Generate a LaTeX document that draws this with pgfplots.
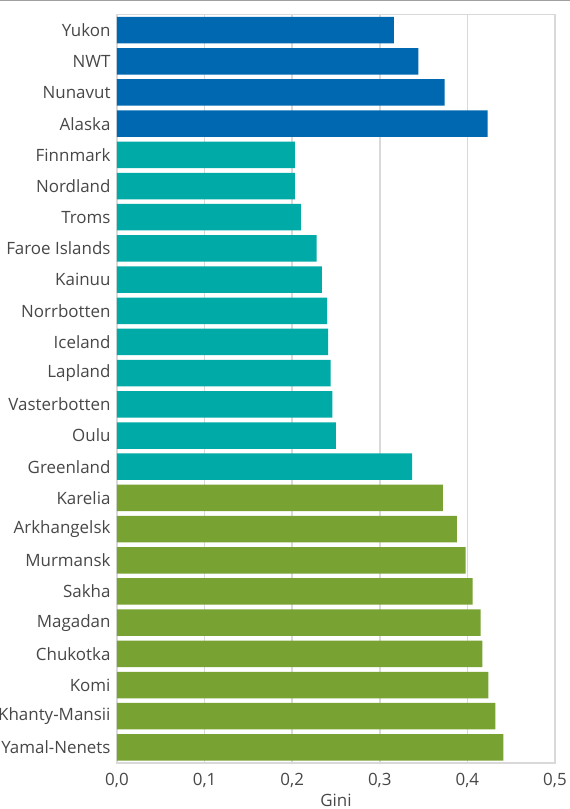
\documentclass[border=0pt]{standalone}
\usepackage{fontspec}
\setmainfont{Open Sans}
\usepackage{pgfplots}
\pgfplotsset{compat=1.18}
\definecolor{cblue}{HTML}{0068B1}
\definecolor{cteal}{HTML}{00AAA6}
\definecolor{cgreen}{HTML}{78A232}
\definecolor{gridc}{HTML}{D9D9D9}
\definecolor{txt}{HTML}{474747}
\begin{document}
\begin{tikzpicture}
\path[use as bounding box] (-117bp,-46bp) rectangle (453bp,763bp);
\begin{axis}[
  at={(0,0)}, anchor=south west,
  scale only axis, width=438bp, height=748.5bp,
  xbar, xmin=0, xmax=0.5, ymin=-0.5, ymax=23.5, y dir=reverse,
  bar width=26.5bp,
  every axis plot/.append style={bar shift=0pt, draw=none},
  ytick={0,...,23},
  yticklabels={Yukon,NWT,Nunavut,Alaska,Finnmark,Nordland,Troms,Faroe Islands,Kainuu,Norrbotten,Iceland,Lapland,Vasterbotten,Oulu,Greenland,Karelia,Arkhangelsk,Murmansk,Sakha,Magadan,Chukotka,Komi\hspace{4bp},Khanty-Mansii,Yamal-Nenets},
  xtick={0,0.1,0.2,0.3,0.4,0.5},
  major tick length=0pt,
  xmajorgrids, grid style={gridc, line width=1.5bp},
  axis line style={gridc, line width=1.5bp},
  tick label style={font=\fontsize{17}{20}\selectfont, text=txt},
  yticklabel style={xshift=-3bp},
  xticklabel style={yshift=-7bp},
  label style={font=\fontsize{17}{20}\selectfont, text=txt},
  xlabel style={yshift=1bp},
  /pgf/number format/.cd, fixed, fixed zerofill, precision=1, use comma, assume math mode=true,
  /pgfplots/.cd,
  xlabel={Gini},
]
\addplot[fill=cblue] coordinates {(0.316,0) (0.344,1) (0.374,2) (0.423,3)};
\addplot[fill=cteal] coordinates {(0.203,4) (0.203,5) (0.210,6) (0.228,7) (0.234,8) (0.240,9) (0.241,10) (0.244,11) (0.246,12) (0.250,13) (0.337,14)};
\addplot[fill=cgreen] coordinates {(0.372,15) (0.388,16) (0.398,17) (0.406,18) (0.415,19) (0.417,20) (0.424,21) (0.432,22) (0.441,23)};
\end{axis}
\draw[color={rgb,255:red,160;green,160;blue,160}, line width=1.2bp] (-117bp,762.4bp) -- (453bp,762.4bp);
\end{tikzpicture}
\end{document}
